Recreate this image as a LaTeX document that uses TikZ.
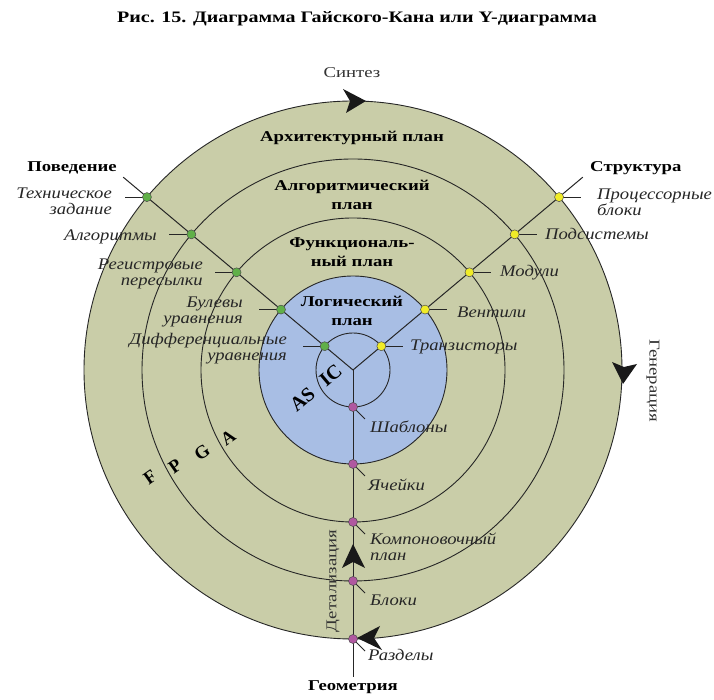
\documentclass[tikz,border=0pt]{standalone}
\usepackage{fontspec}
\setmainfont[FakeStretch=1.25]{Liberation Serif}
\newfontfamily\lblfont[FakeStretch=1.15]{Liberation Serif}
\newfontfamily\plainserif{Liberation Serif}
\definecolor{ringc}{RGB}{201,205,168}
\definecolor{bluec}{RGB}{168,190,228}
\definecolor{greenc}{RGB}{96,176,72}
\definecolor{yellowc}{RGB}{240,236,40}
\definecolor{magc}{RGB}{176,88,160}
\tikzset{
  ringline/.style={draw=black!85,line width=0.9pt},
  yline/.style={draw=black!85,line width=1pt},
  tick/.style={draw=black!85,line width=0.9pt},
  dotbase/.style={circle,draw=black!70,line width=0.5pt,minimum size=9pt,inner sep=0pt},
  gdot/.style={dotbase,fill=greenc},
  ydot/.style={dotbase,fill=yellowc},
  mdot/.style={dotbase,fill=magc},
  lbl/.style={font=\lblfont\fontsize{16.2}{16}\selectfont\itshape,inner sep=0pt,text=black!85},
  llbl/.style={lbl,anchor=east,align=right},
  rlbl/.style={lbl,anchor=west,align=left},
  plane/.style={font=\fontsize{15}{19.5}\selectfont\bfseries,align=center,inner sep=0pt},
  axis/.style={font=\fontsize{15}{16}\selectfont\bfseries,inner sep=0pt},
  plain/.style={font=\fontsize{15}{16}\selectfont,inner sep=0pt,text=black!80},
  big/.style={font=\plainserif\fontsize{18.5}{20}\selectfont\bfseries,inner sep=0pt},
  arrowfill/.style={fill=black!90},
}
\begin{document}
\begin{tikzpicture}[x=1pt,y=1pt]
\useasboundingbox (0,0) rectangle (714,700);
\fill[white] (0,0) rectangle (714,700);
% title
\node[font=\fontsize{16}{18}\selectfont\bfseries,inner sep=0pt] (title) at (357,681) {Рис. 15. Диаграмма Гайского-Кана или Y-диаграмма};
\begin{scope}[shift={(353,330)}]
  \coordinate (O) at (0,0);
  \path[ringline,fill=ringc] (O) circle[radius=269];
  \path[ringline] (O) circle[radius=211];
  \path[ringline] (O) circle[radius=152];
  \path[ringline,fill=bluec] (O) circle[radius=94];
  \path[ringline] (O) circle[radius=37];
  % Y axes ends
  \coordinate (Lend) at (140:300);
  \coordinate (Rend) at (40:300);
  \coordinate (Bend) at (0,-307);
  \draw[yline] (O) -- (Lend);
  \draw[yline] (O) -- (Rend);
  \draw[yline] (O) -- (Bend);
  % ticks and dots
  \foreach \r [count=\i] in {269,211,152,94,37}{
    \coordinate (gt\i) at ([xshift=-22pt]140:\r);
    \coordinate (yt\i) at ([xshift=22pt]40:\r);
    \coordinate (mt\i) at ([shift={(12pt,-12pt)}]270:\r);
    \draw[tick] (140:\r) -- (gt\i);
    \draw[tick] (40:\r) -- (yt\i);
    \draw[tick] (270:\r) -- (mt\i);
    \node[gdot] (g\i) at (140:\r) {};
    \node[ydot] (y\i) at (40:\r) {};
    \node[mdot] (m\i) at (270:\r) {};
  }
\end{scope}
% arrows
\fill[arrowfill] (366,599) -- (343,611) -- (350,599) -- (346,587) -- cycle;
\fill[arrowfill] (623,316) -- (612,338) -- (624,333) -- (637,336) -- cycle;
\fill[arrowfill] (357,62) -- (380,74) -- (374,62) -- (382,50) -- cycle;
\fill[arrowfill] (353,156) -- (342,132) -- (353,138) -- (365,132) -- cycle;
% texts
\node[plain] (synt) at (352,627) {Синтез};
\node[plain,rotate=-90] (gen) at (653,319) {Генерация};
\node[plain,rotate=90] (det) at (333,119) {Детализация};
\node[plane] (p1) at (352,562) {Архитектурный план};
\node[plane] (p2) at (352,505) {Алгоритмический\\план};
\node[plane] (p3) at (352,448) {Функциональ-\\ный план};
\node[plane] (p4) at (352,389) {Логический\\план};
\node[axis] (beh) at (72,532) {Поведение};
\node[axis,anchor=west] (str) at (590,532) {Структура};
\node[axis] (geo) at (353,13) {Геометрия};
\node[llbl] at (112,499) {Техническое\\задание};
\node[llbl] at (157,463) {Алгоритмы};
\node[llbl] at (203,426) {Регистровые\\пересылки};
\node[llbl] at (243,388) {Булевы\\уравнения};
\node[llbl] at (287,351) {Дифференциальные\\уравнения};
\node[rlbl] at (597,498) {Процессорные\\блоки};
\node[rlbl] at (545,466) {Подсистемы};
\node[rlbl] at (500,427) {Модули};
\node[rlbl] at (457,388) {Вентили};
\node[rlbl] at (410,353) {Транзисторы};
\node[rlbl] at (370,273) {Шаблоны};
\node[rlbl] at (368,215) {Ячейки};
\node[rlbl] at (370,153) {Компоновочный\\план};
\node[rlbl] at (370,100) {Блоки};
\node[rlbl] at (368,45) {Разделы};
% AS IC / FPGA
\node[big,font=\plainserif\fontsize{20}{20}\selectfont\bfseries,rotate=40] (asic) at (316,312) {AS\hspace{13pt}IC};
\node[big,rotate=35] (f) at (150,223) {F};
\node[big,rotate=35] (p) at (175,234) {P};
\node[big,rotate=35] (g) at (202,248) {G};
\node[big,rotate=35] (a) at (228,262) {A};
\end{tikzpicture}
\end{document}
